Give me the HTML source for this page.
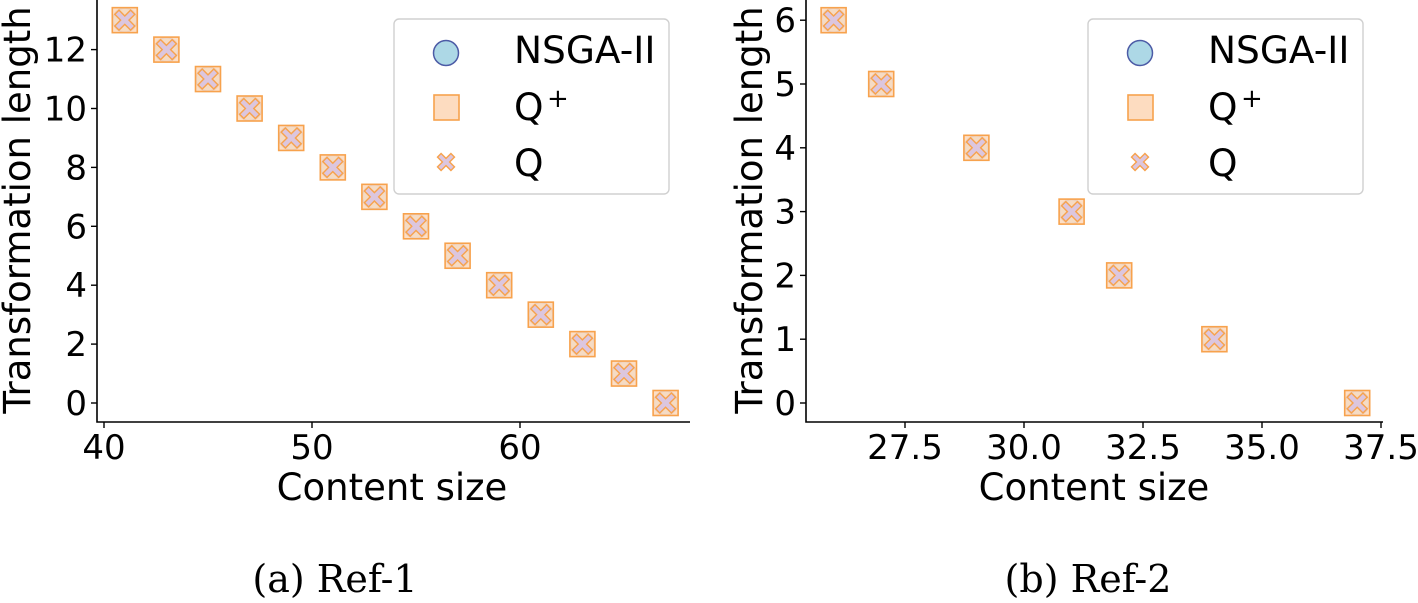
<!DOCTYPE html>
<html><head><meta charset="utf-8"><style>
html,body{margin:0;padding:0;background:#fff;}
svg{display:block;}
text{font-family:"DejaVu Sans","Liberation Sans",sans-serif;fill:#000;}
.cap{font-family:"DejaVu Serif","Liberation Serif",serif;font-size:38px;}
</style></head><body>
<svg id="fig" width="1418" height="603" viewBox="0 0 1418 603"></svg>
<script>
const ref1X = [41,43,45,47,49,51,53,55,57,59,61,63,65,67];
const ref1Y = [13,12,11,10,9,8,7,6,5,4,3,2,1,0];
const ref1XTicks = [40,50,60];
const ref1YTicks = [0,2,4,6,8,10,12];
const ref2X = [26,27,29,31,32,34,37];
const ref2Y = [6,5,4,3,2,1,0];
const ref2XTicks = [27.5,30.0,32.5,35.0,37.5];
const ref2YTicks = [0,1,2,3,4,5,6];

const NS='http://www.w3.org/2000/svg';
const svg=document.getElementById('fig');
function mk(tag,attrs,parent){const e=document.createElementNS(NS,tag);for(const k in attrs)e.setAttribute(k,attrs[k]);(parent||svg).appendChild(e);return e;}

function panel(cfg){
  const g=mk('g',{});
  
  
  const sx=v=>cfg.x0+(v-cfg.xa)*cfg.xs;
  const sy=v=>cfg.y0-v*cfg.ys;
  const ax=mk('path',{d:`M${cfg.left} 0 V${cfg.bottom} H${cfg.right}`,fill:'none',stroke:'#000','stroke-width':1.6},g);
  
  
  cfg.xticks.forEach(t=>{
    const x=sx(t);
    mk('line',{x1:x,x2:x,y1:cfg.bottom,y2:cfg.bottom+6,stroke:'#000','stroke-width':1.4},g);
    const tx=mk('text',{x:x,y:cfg.bottom+37,'text-anchor':'middle','font-size':34},g);
    tx.textContent=cfg.xfmt(t);
    
    
  });
  cfg.yticks.forEach(t=>{
    const y=sy(t);
    mk('line',{x1:cfg.left-6,x2:cfg.left,y1:y,y2:y,stroke:'#000','stroke-width':1.4},g);
    const tx=mk('text',{x:cfg.left-10,y:y+12,'text-anchor':'end','font-size':34},g);
    tx.textContent=String(t);
    
    
  });
  cfg.xs_.forEach((xv,i)=>{
    const x=sx(xv),y=sy(cfg.ys_[i]);
    const c=mk('circle',{cx:x,cy:y,r:12,fill:'#add8e6',stroke:'#4c5ba6','stroke-width':1.5},g);
    
    
    const s=mk('rect',{x:x-12.5,y:y-12.5,width:25,height:25,fill:'#fddcc0','fill-opacity':0.9,stroke:'#f7a24d','stroke-width':1.6},g);
    
    
    const cr=mk('path',{d:crossPath(x,y,10),fill:'#dcc6de',stroke:'#f7a24d','stroke-width':1.4},g);
    
    
  });
  const xl=mk('text',{x:cfg.xlabelX,y:500,'text-anchor':'middle','font-size':37},g);
  xl.textContent='Content size';
  
  
  const yl=mk('text',{x:0,y:0,'text-anchor':'middle','font-size':37,transform:`translate(${cfg.ylabelX},210) rotate(-90)`},g);
  yl.textContent='Transformation length';
  
  
  const cp=mk('text',{x:cfg.capX,y:592,'text-anchor':'middle',class:'cap'},g);
  cp.textContent=cfg.caption;
  
  
  const L=cfg.legX;
  const lg=mk('g',{},g);
  
  
  mk('rect',{x:L,y:19,width:275,height:175,rx:5,fill:'#fff','fill-opacity':0.85,stroke:'#d0d0d0','stroke-width':1.4},lg);
  mk('circle',{cx:L+52,cy:53,r:12.5,fill:'#add8e6',stroke:'#4c5ba6','stroke-width':1.5},lg);
  mk('rect',{x:L,y:0,width:0,height:0},lg);
  mk('rect',{x:L+40,y:95,width:25,height:25,fill:'#fddcc0',stroke:'#f7a24d','stroke-width':1.6},lg);
  mk('path',{d:crossPath(L+52,162,8.5),fill:'#dcc6de',stroke:'#f7a24d','stroke-width':1.4},lg);
  const t1=mk('text',{x:L+120,y:63,'font-size':37.5},lg);t1.textContent='NSGA-II';
  
  
  const t2=mk('text',{x:L+120,y:120,'font-size':37.5},lg);t2.textContent='Q';
  
  
  const t2b=mk('text',{x:L+153,y:107,'font-size':26},lg);t2b.textContent='+';
  const t3=mk('text',{x:L+120,y:176,'font-size':37.5},lg);t3.textContent='Q';
  
  
}
function crossPath(x,y,r){
  const a=r*0.42, b=r;
  const pts=[[0,-a],[b-a,-b],[b,-(b-a)],[a,0],[b,b-a],[b-a,b],[0,a],[-(b-a),b],[-b,b-a],[-a,0],[-b,-(b-a)],[-(b-a),-b]];
  return 'M'+pts.map(p=>(x+p[0])+' '+(y+p[1])).join(' L')+' Z';
}
panel({name:'chart-ref-1',left:97,right:690,bottom:422,x0:104,xa:40,xs:20.8,y0:403,ys:29.45,
  xticks:ref1XTicks,yticks:ref1YTicks,xs_:ref1X,ys_:ref1Y,xfmt:t=>String(t),
  xlabelX:392,ylabelX:30,capX:335,caption:'(a) Ref-1',legX:394});
panel({name:'chart-ref-2',left:806,right:1383,bottom:422,x0:905,xa:27.5,xs:47.6,y0:403,ys:63.8,
  xticks:ref2XTicks,yticks:ref2YTicks,xs_:ref2X,ys_:ref2Y,xfmt:t=>t.toFixed(1),
  xlabelX:1094,ylabelX:762,capX:1088,caption:'(b) Ref-2',legX:1088});
</script>
</body></html>
